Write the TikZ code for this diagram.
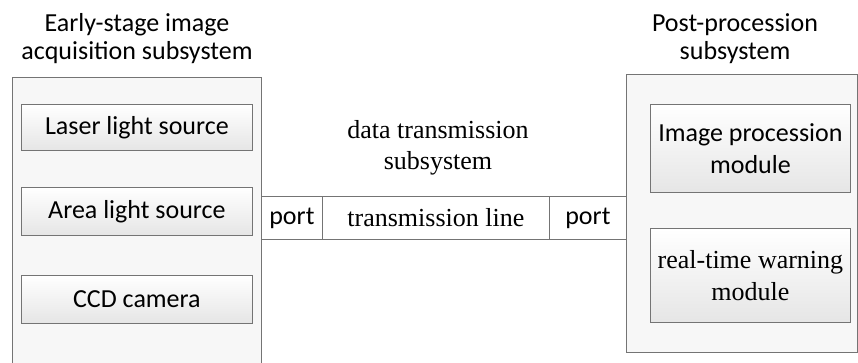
\documentclass[tikz,border=0pt]{standalone}
\usepackage{fontspec}
\setmainfont{Carlito}
\newfontfamily\seriffont{Liberation Serif}
\definecolor{edge}{HTML}{747474}
\begin{document}
\begin{tikzpicture}[x=1pt,y=-1pt,
  outerbox/.style={draw=edge, line width=0.9pt, anchor=north west, inner sep=0pt, fill=black!3},
  innerbox/.style={draw=edge, line width=0.8pt, anchor=north west, top color=white, bottom color=black!10, inner sep=0pt, align=center, font=\fontsize{26}{32}\selectfont},
  stripbox/.style={draw=edge, line width=0.8pt, anchor=north west, fill=white, inner sep=0pt, minimum height=43pt},
  heading/.style={align=center, font=\fontsize{26}{28}\selectfont, inner sep=0pt}
]
\useasboundingbox (0,0) rectangle (858,363);
% outer boxes
\node[outerbox, minimum width=249pt, minimum height=300pt] (acq) at (12,77) {};
\node[outerbox, minimum width=231pt, minimum height=278pt] (post) at (626,74) {};
% headings
\node[heading] (acqT) at (137,39) {Early-stage image\\acquisition subsystem};
\node[heading] (postT) at (735,39) {Post-procession\\subsystem};
\node[heading, font=\seriffont\fontsize{26}{31}\selectfont] (dataT) at (438,148) {data transmission\\subsystem};
% inner left boxes
\node[innerbox, minimum width=231pt, minimum height=46pt] (laser) at (21,104) {Laser light source};
\node[innerbox, minimum width=231pt, minimum height=48pt] (area) at (21,187) {Area light source};
\node[innerbox, minimum width=231pt, minimum height=48pt] (ccd) at (21,275) {CCD camera};
% inner right boxes
\node[innerbox, minimum width=200pt, minimum height=88pt] (imgp) at (650,104) {Image procession\\module};
\node[innerbox, minimum width=200pt, minimum height=94pt, font=\seriffont\fontsize{26}{32}\selectfont] (warn) at (650,228) {real-time warning\\module};
% transmission strip
\node[stripbox, minimum width=61pt, font=\fontsize{26}{28}\selectfont] (port1) at (261,196) {port};
\node[stripbox, minimum width=227pt, font=\seriffont\fontsize{26}{28}\selectfont] (tline) at (322,196) {transmission line};
\node[stripbox, minimum width=77pt, font=\fontsize{26}{28}\selectfont] (port2) at (549,196) {port};
\end{tikzpicture}
\end{document}
